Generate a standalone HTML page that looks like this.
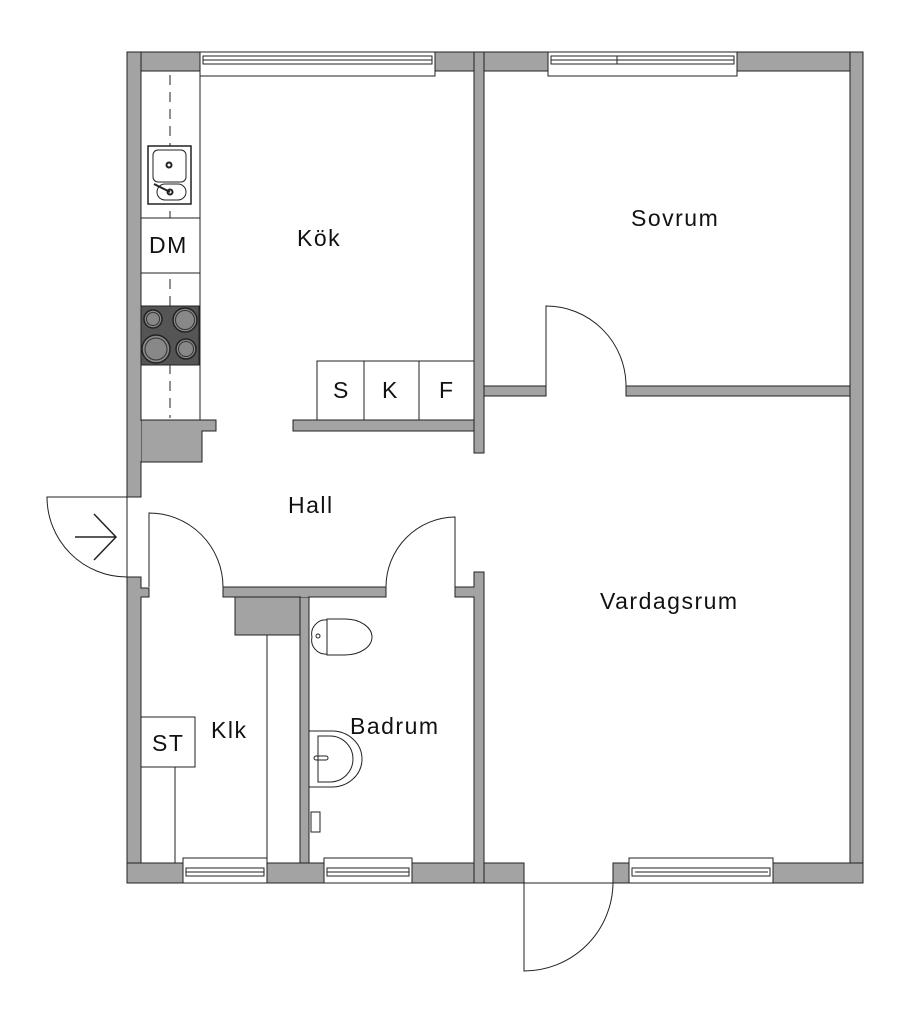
<!DOCTYPE html>
<html><head><meta charset="utf-8"><style>
html,body{margin:0;padding:0;background:#fff;}
svg{display:block;}
text{font-family:"Liberation Sans",sans-serif;font-size:23px;letter-spacing:1.5px;fill:#111;}
</style></head><body>
<svg width="911" height="1024" viewBox="0 0 911 1024" xmlns="http://www.w3.org/2000/svg">
<g fill="#a3a3a3" stroke="#222" stroke-width="1">
<rect x="127" y="52" width="73" height="19"/>
<rect x="435" y="52" width="113" height="19"/>
<rect x="737" y="52" width="126" height="19"/>
<rect x="127" y="52" width="14" height="445"/>
<polygon points="141,420 216,420 216,431 202,431 202,462 141,462"/>
<polygon points="127,577 141,577 141,588 149,588 149,597 141,597 141,883 127,883"/>
<rect x="850" y="52" width="13" height="831"/>
<rect x="127" y="863" width="56" height="20"/>
<rect x="267" y="863" width="57" height="20"/>
<rect x="412" y="863" width="112" height="20"/>
<rect x="613" y="863" width="16" height="20"/>
<rect x="773" y="863" width="90" height="20"/>
<rect x="474" y="52" width="10" height="401"/>
<rect x="484" y="386" width="62" height="10"/>
<rect x="626" y="386" width="224" height="10"/>
<rect x="293" y="420" width="181" height="11"/>
<rect x="223" y="587" width="163" height="10"/>
<rect x="235" y="597" width="65" height="38"/>
<rect x="300" y="597" width="9" height="266"/>
<polygon points="455,587 474,587 474,572 484,572 484,883 474,883 474,597 455,597"/>
</g>
<g fill="#a3a3a3">
<rect x="128" y="53" width="12" height="17"/>
<rect x="475" y="53" width="8" height="17"/>
<rect x="851" y="53" width="11" height="17"/>
<rect x="851" y="864" width="11" height="18"/>
<rect x="128" y="864" width="12" height="18"/>
<rect x="475" y="864" width="8" height="18"/>
<rect x="475" y="387" width="8" height="8"/>
<rect x="851" y="387" width="8" height="8"/>
<rect x="475" y="421" width="8" height="9"/>
<rect x="128" y="421" width="13" height="40"/>
<rect x="301" y="588" width="7" height="9"/>
<rect x="301" y="864" width="7" height="18"/>
</g>
<g fill="#fff" stroke="#222" stroke-width="1">
<rect x="200" y="52" width="235" height="24"/>
<rect x="203" y="56" width="229" height="8"/>
<line x1="203" y1="60" x2="432" y2="60"/>
<rect x="548" y="52" width="189" height="24"/>
<rect x="551" y="56" width="183" height="8"/>
<line x1="551" y1="60" x2="734" y2="60"/><line x1="617" y1="56" x2="617" y2="64"/>
<rect x="183" y="858" width="84" height="25"/>
<rect x="186" y="868" width="78" height="8"/><line x1="186" y1="872" x2="264" y2="872"/>
<rect x="324" y="858" width="88" height="25"/>
<rect x="327" y="868" width="82" height="8"/><line x1="327" y1="872" x2="409" y2="872"/>
<rect x="629" y="858" width="144" height="25"/>
<rect x="632" y="868" width="138" height="8"/><line x1="635" y1="872" x2="768" y2="872"/>
</g>
<g fill="none" stroke="#222" stroke-width="1">
<rect x="141" y="71" width="59" height="349"/>
<line x1="170" y1="75" x2="170" y2="418" stroke-dasharray="10,7"/>
<rect x="141" y="218" width="59" height="55" fill="#fff"/>
<rect x="148" y="146" width="43" height="58" fill="#fff" stroke-width="1.5"/>
<rect x="153" y="150" width="33" height="32" rx="5"/>
<rect x="157" y="184" width="29" height="16" rx="8"/>
<circle cx="169" cy="165" r="2.5" stroke-width="2"/>
<circle cx="170" cy="192" r="2.5" stroke-width="2"/>
<line x1="154" y1="184" x2="170" y2="192" stroke-width="2"/>
<rect x="141" y="306" width="58" height="59" fill="#555"/>
<g fill="#888" stroke="#222" stroke-width="1.5">
<circle cx="153" cy="319" r="9"/><circle cx="185" cy="320" r="12"/>
<circle cx="156" cy="349" r="14"/><circle cx="186" cy="349" r="10"/>
</g>
<g stroke="#333" stroke-width="1">
<circle cx="153" cy="319" r="6.5"/><circle cx="185" cy="320" r="9.5"/>
<circle cx="156" cy="349" r="11"/><circle cx="186" cy="349" r="7.5"/>
</g>
<rect x="317" y="361" width="157" height="59" fill="#fff"/>
<line x1="364" y1="361" x2="364" y2="420"/><line x1="419" y1="361" x2="419" y2="420"/>
<path d="M127 497 L47 497 A80 80 0 0 0 127 577 Z"/>
<path d="M149 587 L149 513 A74 74 0 0 1 223 587"/>
<path d="M455 587 L455 517 A70 70 0 0 0 386 587"/>
<path d="M546 386 L546 306 A80 80 0 0 1 626 386"/>
<path d="M524 883 L524 971 A89 89 0 0 0 613 883"/>
<line x1="524" y1="883" x2="613" y2="883"/>
<path d="M75 537 L116 537 M94 514 L116 537 L94 560" stroke-width="1.5"/>
<line x1="267" y1="635" x2="267" y2="863"/>
<rect x="141" y="717" width="54" height="50"/>
<line x1="175" y1="767" x2="175" y2="863"/>
<path d="M327 619 L345 619 A27 18 0 0 1 345 655 L327 655 Z"/>
<path d="M327 620 A14 14 0 0 0 312 637 A14 14 0 0 0 327 654 Z"/>
<circle cx="318" cy="636" r="2"/>
<path d="M309 731 L332 731 A30 28 0 0 1 332 787 L309 787"/>
<path d="M318 736 L330 736 A22 22 0 0 1 330 782 L318 782 Z"/>
<rect x="314" y="756" width="14" height="4" rx="2"/>
<rect x="311" y="812" width="9" height="20"/>
</g>
<text x="297" y="246">Kök</text>
<text x="631" y="226">Sovrum</text>
<text x="288" y="513">Hall</text>
<text x="211" y="738">Klk</text>
<text x="350" y="734">Badrum</text>
<text x="600" y="609">Vardagsrum</text>
<text x="149" y="253">DM</text>
<text x="333" y="398">S</text>
<text x="382" y="398">K</text>
<text x="439" y="398">F</text>
<text x="152" y="751">ST</text>
</svg>
</body></html>
